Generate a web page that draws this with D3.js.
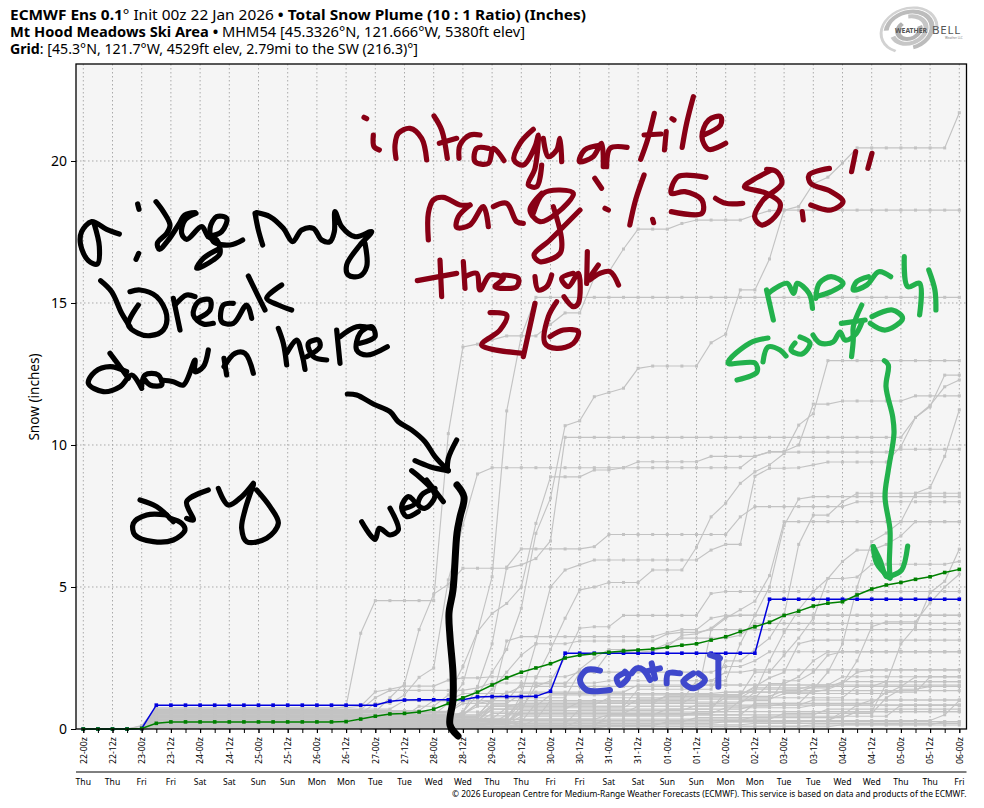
<!DOCTYPE html>
<html>
<head>
<meta charset="utf-8">
<script src="https://cdn.jsdelivr.net/npm/d3@7"></script>
<style>
  html, body { margin: 0; padding: 0; background: #fff; }
  svg { display: block; }
  text { font-family: "Noto Sans", sans-serif; }
</style>
</head>
<body>
<div id="chart"></div>
<script>
const stepLabels = ["22-00z","22-12z","23-00z","23-12z","24-00z","24-12z","25-00z","25-12z","26-00z","26-12z","27-00z","27-12z","28-00z","28-12z","29-00z","29-12z","30-00z","30-12z","31-00z","31-12z","01-00z","01-12z","02-00z","02-12z","03-00z","03-12z","04-00z","04-12z","05-00z","05-12z","06-00z"];
const dayLabels = ["Thu","Thu","Fri","Fri","Sat","Sat","Sun","Sun","Mon","Mon","Tue","Tue","Wed","Wed","Thu","Thu","Fri","Fri","Sat","Sat","Sun","Sun","Mon","Mon","Tue","Tue","Wed","Wed","Thu","Thu","Fri"];
const snowTicks = [0, 5, 10, 15, 20];

// control and mean, one value per 6h step
const control = [0,0,0,0,0.02,0.84,0.84,0.84,0.84,0.84,0.84,0.84,0.84,0.84,0.84,0.84,0.84,0.84,0.84,0.84,0.84,0.98,1.02,1.03,1.03,1.03,1.03,1.13,1.14,1.14,1.14,1.15,1.33,2.67,2.67,2.67,2.67,2.67,2.67,2.67,2.67,2.67,2.67,2.67,2.67,2.67,2.67,4.57,4.57,4.57,4.57,4.57,4.57,4.57,4.57,4.57,4.57,4.57,4.57,4.57,4.57];
const mean = [0,0,0,0,0.02,0.2,0.25,0.25,0.25,0.25,0.25,0.25,0.25,0.25,0.25,0.25,0.25,0.25,0.26,0.35,0.45,0.53,0.55,0.6,0.7,0.9,1.1,1.3,1.55,1.8,2.0,2.15,2.3,2.5,2.6,2.65,2.7,2.75,2.78,2.82,2.88,2.95,3.0,3.13,3.25,3.43,3.6,3.76,4.0,4.15,4.33,4.43,4.48,4.72,4.93,5.07,5.16,5.27,5.36,5.51,5.62];

// ensemble members: [step, inches] at each step where the total changes, held until the next one
const members = [
  [[4,.1],[5,.7],[18,.8],[19,3.37],[20,4.52],[25,10.4],[26,13.45],[27,13.55],[28,13.7],[29,13.84],[32,14.25],[33,14.65],[35,15.9],[36,16.1],[37,16.9],[38,17.6],[41,17.8],[42,17.92],[46,18.1],[47,18.25],[48,18.27]],
  [[5,.3],[24,.5],[25,.9],[26,1.6],[27,3.4],[28,5.36],[29,11.2],[30,13.84],[31,15.2]],
  [[5,.2],[25,.4],[26,.6],[27,1.2],[28,2.0],[29,2.8],[30,4.25],[31,6.89],[32,8.13],[33,10.68],[34,10.85],[35,11.7],[36,11.85],[37,12.0],[38,12.7],[39,12.78],[43,13.6],[44,13.9],[45,15.46],[47,16.55],[48,18.27],[49,18.4],[50,19.2],[51,19.43],[52,19.93],[53,20.46],[60,21.7]],
  [[5,.45],[23,.8],[25,1.2],[26,2.2],[27,3.43],[28,4.07],[29,4.42],[30,5.0],[31,7.24],[32,8.88],[35,9.12],[37,9.2],[38,9.41],[43,9.6],[47,9.77],[49,10.0],[50,11.44],[52,11.55],[57,11.73]],
  [[5,.6],[21,1.1],[22,1.6],[23,3.5],[24,4.75],[25,5.1],[26,5.66],[30,5.78],[31,6.0],[32,6.62],[33,10.27],[57,10.97],[58,11.4],[59,12.05],[60,12.29]],
  [[5,.55],[20,.9],[22,1.2],[23,1.82],[24,2.15],[25,5.25],[26,7.18],[27,8.98],[28,9.2],[46,9.6],[47,9.75],[56,9.85]],
  [[5,.15],[27,.3],[30,1.2],[31,3.0],[32,5.0],[33,5.6],[34,5.78],[35,5.95],[43,6.3],[44,6.5],[46,8.9],[47,9.18],[49,9.2],[50,9.3],[51,9.4],[56,9.95],[57,10.97],[58,11.35],[59,12.46]],
  [[5,.35],[26,.6],[27,1.5],[28,3.0],[29,5.7],[30,6.34],[35,6.42],[36,6.85],[45,7.47],[46,7.83],[53,8.0]],
  [[5,.12],[28,.25],[30,.6],[31,1.8],[32,2.8],[33,3.9],[34,4.9],[35,5.0],[36,5.16],[39,5.6],[42,6.4],[43,7.47],[44,7.95],[45,8.65],[46,9.06],[47,9.3],[48,9.7],[49,10.7],[50,11.1],[51,12.97]],
  [[5,.28],[28,.7],[31,1.5],[32,1.7],[33,2.5],[34,3.55],[35,3.6],[37,4.0],[43,4.77],[44,4.84]],
  [[5,.5],[28,1.0],[43,3.5],[44,3.9],[45,4.2],[46,4.5],[47,5.4],[48,7.3]],
  [[5,.22],[30,.8],[38,1.4],[44,2.4],[46,2.8],[47,3.2],[48,4.0],[49,6.5],[50,7.53],[52,8.0],[53,8.3]],
  [[5,.33],[32,1.0],[42,1.7],[45,3.0],[46,4.0],[47,5.0],[48,7.17],[49,8.1],[50,8.18]],
  [[5,.1],[36,.5],[46,.9],[50,1.4],[51,2.0],[52,3.0],[53,5.0],[54,6.6],[55,6.9],[56,7.3],[57,8.3],[58,8.5],[59,9.6],[60,11.24]],
  [[5,.18],[34,.7],[44,1.3],[47,2.4],[48,3.4],[49,4.2],[50,4.84],[51,5.3],[52,5.9],[53,6.3],[55,6.5],[56,6.8],[57,7.3]],
  [[5,.25],[31,.9],[42,1.2],[46,2.0],[48,2.6],[49,3.2],[50,3.9],[51,5.3],[53,5.35],[54,5.8],[60,5.9]],
  [[5,.08],[34,.3],[52,.6],[55,1.6],[56,3.0],[57,3.6],[58,4.8],[59,5.2],[60,6.33]],
  [[5,.38],[30,.9],[46,1.3],[51,1.4],[52,1.6],[53,2.4],[54,3.6],[55,3.77],[58,4.45],[59,5.0],[60,5.45]],
  [[5,.42],[28,1.1],[34,2.0],[36,2.7],[39,2.75],[40,2.9],[41,3.3],[42,3.35],[43,3.55],[44,3.95],[45,4.01]],
  [[5,.48],[27,.9],[28,1.0],[29,3.1],[30,3.25],[40,3.4],[41,3.5],[43,3.9],[44,4.0]],
  [[5,.53],[27,.9],[28,1.4],[29,2.0],[30,2.6],[31,3.0],[34,3.1],[40,3.35],[41,3.4],[43,3.5]],
  [[5,.62],[26,1.0],[30,1.6],[34,2.1],[35,2.5],[36,2.8],[40,3.0],[41,3.2],[45,3.3],[46,3.72]],
  [[4,.12],[5,.75],[19,.8],[20,1.31],[21,1.4],[22,1.51],[25,1.72],[26,1.8],[28,1.84],[34,2.0],[44,2.2],[46,2.4],[47,2.72]],
  [[5,.68],[20,1.1],[21,1.36],[27,1.45],[28,1.62],[36,1.7],[44,2.0],[46,2.08]],
  [[5,.4],[28,.8],[30,.9],[40,1.2],[46,1.5],[47,1.8],[48,2.0],[49,3.0],[50,3.13]],
  [[5,.3],[28,.8],[44,1.1],[47,1.6],[49,1.84],[50,2.4],[51,2.72]],
  [[5,.2],[26,.6],[45,1.0],[48,1.7],[50,2.0],[51,2.6],[52,2.72]],
  [[5,.65],[24,1.0],[29,1.3],[38,1.55],[52,1.6],[53,2.0],[54,2.08]],
  [[5,.58],[26,.9],[30,1.25],[44,1.3],[50,1.5],[55,1.67]],
  [[5,.05],[30,.12],[40,.25],[50,.3],[59,.5],[60,1.0]],
  [[5,.07],[28,.2],[36,.3],[52,.5],[53,.84]],
  [[5,.1],[31,.35],[48,.55],[55,1.1],[56,1.4],[58,1.5]],
  [[5,.04],[36,.1],[50,.14]],
  [[5,.16],[30,.45],[42,.61]],
  [[5,.19],[29,.5],[40,.7],[46,.84],[54,1.02]],
  [[5,.24],[28,.55],[38,.8],[48,.9],[55,1.3],[58,1.84]],
  [[5,.27],[30,.65],[42,.84],[50,1.02]],
  [[5,.32],[28,.7],[34,.95],[46,1.1],[53,1.5]],
  [[5,.36],[29,.75],[38,1.05],[48,1.25],[56,1.5],[57,1.84]],
  [[5,.44],[28,.85],[36,1.1],[46,1.4],[50,1.55]],
  [[5,.46],[30,1.0],[40,1.15],[48,1.35]],
  [[5,.52],[27,.8],[32,1.2],[46,1.45],[52,1.67]],
  [[5,.03],[34,.08],[52,.15],[59,.26]],
  [[4,.02],[5,.06],[30,.15],[46,.2]],
  [[5,.09],[30,.2],[44,.26]],
  [[5,.11],[28,.25],[42,.4],[53,.61]],
  [[5,.14],[30,.3],[46,.45],[56,.84]],
  [[5,.17],[27,.35],[36,.5],[51,.7]],
  [[5,.21],[30,.55],[44,.75],[50,.84]],
  [[5,.7],[22,1.0],[26,1.25],[30,1.5],[42,1.55],[52,1.84]]
];

// handwriting drawn over the chart, each stroke as picture points
const inkBlack = { color: "#000", width: 5.2, x0: 70, y0: 190, kx: 3, ky: 3, strokes: [
  [[148,132],[110,118],[65,95],[35,125],[32,165],[55,212],[82,222],[88,170],[72,100]],
  [[203,42],[207,58]], [[206,190],[198,208]],
  [[258,35],[280,65],[300,105],[290,130],[262,160],[268,178],[295,150],[325,105],[345,75],[375,68]],
  [[378,70],[345,90],[335,130],[350,148],[395,110],[415,140],[440,150],[450,190],[430,210],[380,235],[400,205],[450,175]],
  [[415,140],[455,125],[470,85],[440,80],[420,115],[430,155],[480,165],[518,150]],
  [[555,70],[565,120],[578,165]], [[560,68],[600,80],[640,115],[668,155],[695,120],[730,115],[755,150],[780,155],[793,125],[795,65],[815,110],[855,140],[905,125],[870,165],[830,225],[835,255],[870,258],[890,230],[885,160]],
  [[92,272],[125,305],[155,370],[180,410]],
  [[180,305],[210,300],[260,320],[290,375],[280,420],[240,437],[205,430],[175,405],[205,345]],
  [[310,325],[330,420]], [[315,345],[350,315],[375,320]],
  [[385,385],[420,360],[420,330],[385,335],[370,375],[400,402],[430,400]],
  [[490,340],[460,345],[455,395],[490,400],[530,345],[545,385]],
  [[535,258],[565,320],[585,360]], [[635,285],[590,325],[625,345],[665,360]],
  [[120,490],[150,530],[175,565]],
  [[170,545],[120,530],[75,545],[55,580],[100,605],[150,590],[185,555],[215,595]],
  [[215,590],[225,555],[265,555],[275,585],[240,585],[225,570]],
  [[275,570],[310,575],[340,585],[375,510],[375,545],[400,530],[415,480]],
  [[462,505],[470,555]], [[462,530],[495,490],[525,490],[550,550]],
  [[625,415],[640,460],[650,525]], [[650,490],[680,450],[695,490],[705,538]],
  [[710,500],[750,470],[745,450],[715,460],[730,500],[770,510]],
  [[800,420],[810,520]], [[810,440],[860,410],[905,415]],
  [[870,460],[915,440],[905,410],[870,430],[860,480],[890,495],[952,470]],
  [[210,930],[260,950],[310,995]],
  [[290,975],[230,975],[190,1000],[195,1035],[250,1055],[310,1050],[345,1020],[335,1000],[300,985]],
  [[350,985],[370,990],[350,935],[415,900]],
  [[445,895],[475,945],[515,920],[550,880]],
  [[550,885],[525,960],[515,1015],[530,1055],[590,1045],[625,1000],[600,950],[560,900]]
]};
const inkArrow = { color: "#000", width: 5.2, x0: 340, y0: 380, kx: 3, ky: 3, strokes: [
  [[22,42],[50,45],[100,72],[150,95],[175,125],[215,150],[255,185],[285,230],[325,272]],
  [[350,180],[325,235],[322,272]], [[225,242],[270,260],[325,272]],
  [[65,425],[105,478],[118,445],[150,465],[175,450],[150,385]],
  [[195,385],[225,370],[205,350],[185,380],[200,410],[235,395]],
  [[285,325],[245,345],[235,375],[255,385],[285,345],[215,272]], [[260,300],[310,365]]
]};
const inkWed = { color: "#000", width: 7, x0: 0, y0: 0, kx: 1, ky: 1, strokes: [
  [[457,485],[464,497],[460,517],[457,533],[453,590],[449,613],[450,637],[453,673],[453,700],[450,725],[458,736]]
]};
const inkRedA = { color: "#880015", width: 5.2, x0: 360, y0: 90, kx: 3, ky: 3, strokes: [
  [[12,82],[20,86]], [[40,135],[42,170],[58,180]],
  [[108,205],[105,165],[115,130],[150,115],[185,145],[200,210]],
  [[222,78],[245,120],[262,205]], [[238,160],[290,145]],
  [[297,205],[300,165],[330,135],[360,135]],
  [[385,175],[350,175],[345,215],[385,220],[400,175],[432,212]],
  [[520,118],[480,160],[462,210],[490,225],[525,170],[535,135],[525,235],[505,285],[530,290],[545,225]],
  [[550,145],[565,200],[590,180],[600,145],[605,215]],
  [[205,450],[205,370],[220,330],[250,322],[300,345],[330,345]],
  [[330,345],[295,380],[290,412],[330,405],[370,350],[385,410]],
  [[400,350],[440,340],[470,395],[490,400]],
  [[545,310],[510,360],[540,395],[590,370],[640,310],[600,300],[550,310],[520,370]],
  [[580,350],[605,450],[600,490],[540,515],[522,495],[570,450],[660,360]],
  [[172,572],[290,550]], [[240,510],[245,620]],
  [[310,515],[315,595]], [[315,560],[350,550],[360,600],[390,555],[430,565],[405,590],[470,590],[475,565],[430,555]],
  [[525,560],[535,600],[560,590],[575,555]],
  [[640,550],[605,565],[625,590],[655,550],[655,640],[640,650],[612,620]],
  [[682,485],[680,580]], [[690,560],[715,525]],
  [[390,668],[440,675],[420,720],[365,765],[490,790]],
  [[525,640],[490,800]],
  [[590,635],[565,680],[555,760],[590,775],[640,760],[655,725],[610,720],[570,740]]
]};
const inkRedB = { color: "#880015", width: 5.2, x0: 440, y0: 60, kx: 2.94, ky: 3, strokes: [
  [[475,255],[425,270],[410,305],[450,290],[475,250],[480,320]],
  [[490,320],[500,265],[550,262]],
  [[630,160],[610,240],[590,298]], [[600,225],[650,222]],
  [[682,176],[688,180]], [[665,215],[660,270]],
  [[745,110],[725,190],[712,262]],
  [[775,225],[825,195],[825,170],[790,180],[770,230],[790,268],[840,250]],
  [[455,355],[475,385]], [[485,445],[495,450]],
  [[600,345],[575,420],[558,495]], [[625,478],[628,488]],
  [[782,352],[700,350],[680,400],[720,395],[770,420],[770,460],[680,455]],
  [[810,415],[840,430],[890,430]],
  [[975,330],[920,360],[895,380],[960,400],[1000,430],[985,470],[945,495],[925,470],[950,420],[1005,370],[990,335],[960,328]],
  [[1065,455],[1068,480]],
  [[1145,325],[1085,345],[1090,370],[1150,395],[1185,425],[1150,450],[1090,435]],
  [[1222,275],[1210,335]], [[1270,280],[1258,325]],
  [[440,660],[470,640],[500,635],[525,675]]
]};
const inkGreen = { color: "#22b14c", width: 5.2, x0: 440, y0: 60, kx: 2.94, ky: 3, strokes: [
  [[960,690],[980,780]],
  [[965,700],[1020,670],[1040,700],[1050,670],[1085,700],[1095,745]],
  [[1105,710],[1150,695],[1185,670],[1150,650],[1115,670],[1105,715]],
  [[1260,650],[1225,665],[1215,690],[1255,675],[1290,635],[1325,650]],
  [[1365,590],[1375,680],[1410,670],[1410,765]],
  [[1437,630],[1455,690],[1458,750]],
  [[1240,735],[1215,800],[1215,840],[1210,890]], [[1180,790],[1250,780]],
  [[1270,770],[1330,750],[1360,775],[1310,810],[1265,790]]
]};
const inkGreenLow = { color: "#22b14c", width: 5.2, x0: 0, y0: 0, kx: 1, ky: 1, strokes: [
  [[768,338],[750,343],[728,363],[755,363],[757,372],[737,380]],
  [[763,362],[768,347],[780,350],[786,356]],
  [[795,343],[791,350],[802,354],[810,343],[800,337]],
  [[813,335],[820,343],[833,342],[840,332],[845,340],[855,335],[862,322]]
]};
const inkGreenArrow = { color: "#22b14c", width: 5.2, x0: 700, y0: 330, kx: 3, ky: 3, strokes: [
  [[553,92],[565,105],[558,170],[578,260],[582,310],[565,420],[555,500],[570,600],[568,700],[570,742]],
  [[520,650],[540,690],[560,740],[580,735],[605,720],[623,648]],
  [[520,650],[530,700],[570,745]]
]};
const inkBlue = { color: "#3f48cc", width: 6, x0: 520, y0: 640, kx: 3, ky: 3, strokes: [
  [[240,92],[200,90],[180,120],[200,150],[270,150]],
  [[310,100],[290,115],[300,135],[325,110],[315,95]],
  [[335,100],[350,85],[370,90],[390,120]],
  [[395,70],[405,115]], [[375,95],[420,85]],
  [[440,130],[445,100],[480,100]],
  [[520,100],[490,125],[520,145],[555,120],[535,100]],
  [[595,50],[595,140]], [[570,45],[600,55]]
]};
const inkLayers = [inkBlack, inkArrow, inkWed, inkRedA, inkRedB, inkGreen, inkGreenLow, inkGreenArrow, inkBlue];

const titleLines = [
  [["ECMWF Ens 0.1", 700], ["° ", 400], ["Init 00z 22 Jan 2026 ", 400], ["• ", 700], ["Total Snow Plume (10 : 1 Ratio) (Inches)", 700]],
  [["Mt Hood Meadows Ski Area ", 700], ["• ", 700], ["MHM54 [45.3326°N, 121.666°W, 5380ft elev]", 400]],
  [["Grid", 700], [": [45.3°N, 121.7°W, 4529ft elev, 2.79mi to the SW (216.3)°]", 400]]
];
const titleWidths = [576, 515, 408];

const width = 984, height = 808;
const plot = { left: 76, right: 966.5, top: 64, bottom: 729 };
const nSteps = 61;

const x = d3.scaleLinear().domain([0, 60]).range([83.3, 959.3]);
const y = d3.scaleLinear().domain([0, 23.415]).range([plot.bottom, plot.top]);

// expand a member's change list to a value per step
function holdValues(changes) {
  const out = [];
  let cur = 0, k = 0;
  for (let i = 0; i < nSteps; i++) {
    if (k < changes.length && changes[k][0] === i) { cur = changes[k][1]; k++; }
    out.push(cur);
  }
  return out;
}

const svg = d3.select("#chart").append("svg")
  .attr("width", width)
  .attr("height", height)
  .attr("viewBox", `0 0 ${width} ${height}`);

svg.append("rect")
  .attr("x", plot.left).attr("y", plot.top)
  .attr("width", plot.right - plot.left).attr("height", plot.bottom - plot.top)
  .attr("fill", "#f5f5f5");

// grid
const evenSteps = d3.range(0, 61, 2);
svg.append("g").selectAll("line").data(evenSteps).join("line")
  .attr("x1", d => x(d)).attr("x2", d => x(d))
  .attr("y1", plot.top).attr("y2", plot.bottom)
  .attr("stroke", "#aaa").attr("stroke-dasharray", "1.5,2.5");
svg.append("g").selectAll("line").data(snowTicks.slice(1)).join("line")
  .attr("x1", plot.left).attr("x2", plot.right)
  .attr("y1", d => y(d)).attr("y2", d => y(d))
  .attr("stroke", "#aaa").attr("stroke-dasharray", "1.5,2.5");

const line = d3.line().x((d, i) => x(i)).y(d => y(d));

function drawSeries(values, color, w, box) {
  const g = svg.append("g");
  g.append("path").attr("d", line(values))
    .attr("fill", "none").attr("stroke", color).attr("stroke-width", w);
  g.selectAll("rect").data(values).join("rect")
    .attr("x", (d, i) => x(i) - box / 2).attr("y", d => y(d) - box / 2)
    .attr("width", box).attr("height", box)
    .attr("fill", color);
}

members.forEach(m => drawSeries(holdValues(m), "#c3c3c3", 1.15, 3));
drawSeries(control, "#0000dd", 1.5, 3.6);
drawSeries(mean, "#008000", 1.5, 3.6);

// frame and axes
svg.append("rect")
  .attr("x", plot.left).attr("y", plot.top)
  .attr("width", plot.right - plot.left).attr("height", plot.bottom - plot.top)
  .attr("fill", "none").attr("stroke", "#000").attr("stroke-width", 1.3);

const xMinor = d3.axisBottom(x).tickValues(d3.range(0, 61)).tickSize(4).tickFormat("");
svg.append("g").attr("transform", `translate(0,${plot.bottom})`).call(xMinor)
  .call(g => g.select(".domain").remove());

const xAxis = d3.axisBottom(x).tickValues(evenSteps).tickSize(4).tickFormat(d => stepLabels[d / 2]);
svg.append("g").attr("transform", `translate(0,${plot.bottom})`).call(xAxis)
  .call(g => g.select(".domain").remove())
  .selectAll("text")
  .attr("transform", "rotate(-90)")
  .attr("x", -8).attr("y", 0).attr("dy", "0.33em")
  .attr("text-anchor", "end")
  .attr("font-size", 8.6).attr("font-family", "'Noto Sans', sans-serif")
  .attr("textLength", 27).attr("lengthAdjust", "spacingAndGlyphs");

const yAxis = d3.axisLeft(y).tickValues(snowTicks).tickSize(5).tickPadding(4);
svg.append("g").attr("transform", `translate(${plot.left},0)`).call(yAxis)
  .call(g => g.select(".domain").remove())
  .selectAll("text").attr("font-size", 14).attr("font-family", "'Noto Sans', sans-serif");

svg.append("text")
  .attr("transform", `translate(39,397) rotate(-90)`)
  .attr("text-anchor", "middle").attr("font-size", 13.6)
  .text("Snow (inches)");

// day row
svg.append("line").attr("x1", plot.left).attr("x2", plot.right)
  .attr("y1", 772).attr("y2", 772).attr("stroke", "#000").attr("stroke-width", 1);
svg.append("g").selectAll("text").data(dayLabels).join("text")
  .attr("x", (d, i) => x(i * 2)).attr("y", 784.5)
  .attr("text-anchor", "middle").attr("font-size", 8.6)
  .text(d => d);

svg.append("text")
  .attr("x", 966.5).attr("y", 797)
  .attr("text-anchor", "end").attr("font-size", 8.4)
  .text("© 2026 European Centre for Medium-Range Weather Forecasts (ECMWF). This service is based on data and products of the ECMWF.");

// title block
titleLines.forEach((runs, i) => {
  const t = svg.append("text").attr("x", 10).attr("y", 20 + i * 17)
    .attr("font-size", 14.6)
    .attr("textLength", titleWidths[i]).attr("lengthAdjust", "spacingAndGlyphs");
  t.selectAll("tspan").data(runs).join("tspan")
    .attr("font-weight", d => d[1])
    .attr("xml:space", "preserve")
    .text(d => d[0]);
});

// logo
const logo = svg.append("g").attr("transform", "translate(909,30)");
[[30,27,"#d2d2d2",-2.4],[26,21,"#bcbcbc",-1.2],[20,15,"#c6c6c6",0.2],[14,9,"#b2b2b2",1.5]].forEach(r => {
  logo.append("path")
    .attr("d", d3.arc()({ innerRadius: r[1], outerRadius: r[0], startAngle: r[3], endAngle: r[3] + 4.4 }))
    .attr("transform", "rotate(-18) scale(1,0.76)")
    .attr("fill", r[2]);
});
logo.append("text").attr("x", -14).attr("y", 3)
  .attr("font-size", 6.8).attr("font-family", "'Liberation Serif', serif").attr("font-weight", 700)
  .attr("fill", "#555").text("WEATHER");
logo.append("text").attr("x", 23).attr("y", 4)
  .attr("font-size", 11.5).attr("font-family", "'Liberation Serif', serif")
  .attr("letter-spacing", 0.8).attr("fill", "#555").text("BELL");
logo.append("text").attr("x", 36).attr("y", 9)
  .attr("font-size", 3).attr("fill", "#777").text("Weather LLC");

// handwriting
const pen = d3.line().curve(d3.curveCatmullRom.alpha(0.5));
inkLayers.forEach(layer => {
  svg.append("g").selectAll("path").data(layer.strokes).join("path")
    .attr("d", s => pen(s.map(p => [layer.x0 + p[0] / layer.kx, layer.y0 + p[1] / layer.ky])))
    .attr("fill", "none")
    .attr("stroke", layer.color)
    .attr("stroke-width", layer.width)
    .attr("stroke-linecap", "round")
    .attr("stroke-linejoin", "round");
});
</script>
</body>
</html>
